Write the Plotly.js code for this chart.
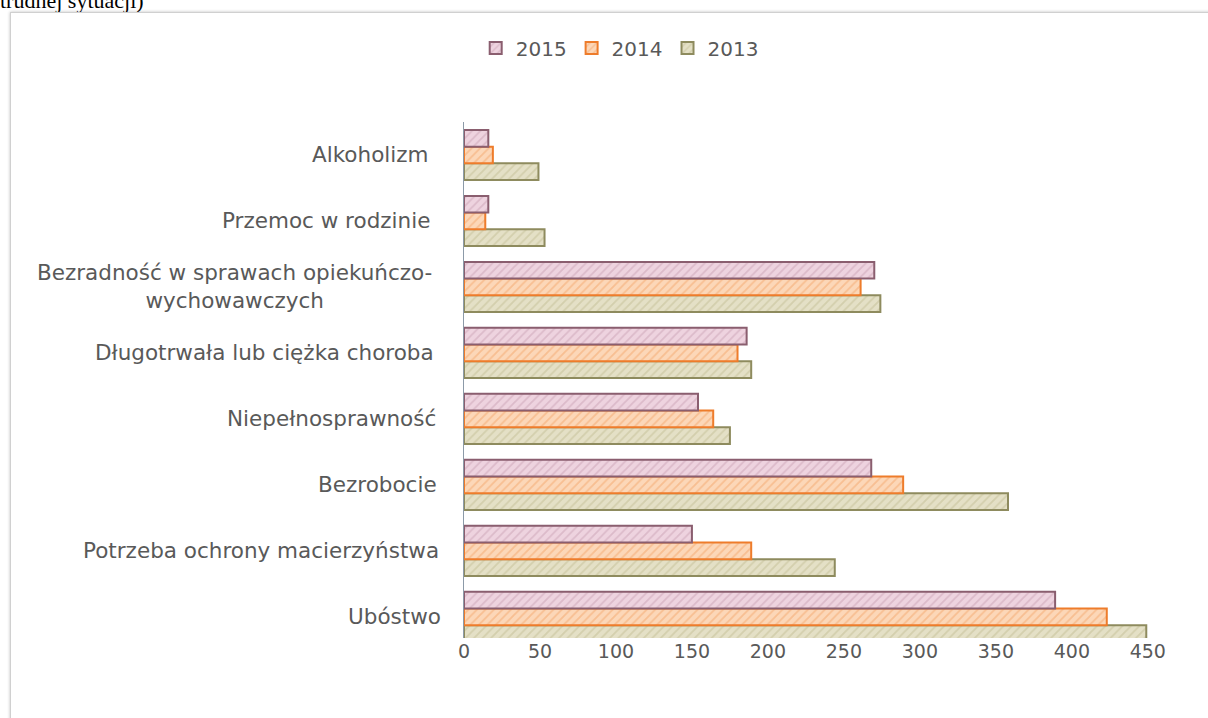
<!DOCTYPE html>
<html>
<head>
<meta charset="utf-8">
<script src="https://cdn.plot.ly/plotly-3.0.1.min.js"></script>
<style>
  html, body { margin: 0; padding: 0; background: #ffffff; width: 1208px; height: 718px; overflow: hidden; }
  #caption { position: absolute; left: 0; top: -10px; font-family: "Liberation Serif", "DejaVu Serif", serif; font-size: 22px; line-height: 22px; color: #000; white-space: nowrap; }
  #frame { position: absolute; left: 10px; top: 12px; width: 1210px; height: 720px; border: 1px solid #d0d0d0; box-shadow: 0 0 3px rgba(0,0,0,0.25); background: #ffffff; }
  #chart { position: absolute; left: 0; top: 0; width: 1208px; height: 718px; }
</style>
</head>
<body>
<div id="caption">trudnej sytuacji)</div>
<div id="frame"></div>
<div id="chart"></div>
<script>
// Categories from bottom to top
const categories = [
  "Ubóstwo",
  "Potrzeba ochrony macierzyństwa",
  "Bezrobocie",
  "Niepełnosprawność",
  "Długotrwała lub ciężka choroba",
  "Bezradność w sprawach opiekuńczo-<br>wychowawczych",
  "Przemoc w rodzinie",
  "Alkoholizm"
];
const values2015 = [389, 150, 268, 154, 186, 270, 16, 16];
const values2014 = [423, 189, 289, 164, 180, 261, 14, 19];
const values2013 = [449, 244, 358, 175, 189, 274, 53, 49];
const xTicks = [0, 50, 100, 150, 200, 250, 300, 350, 400, 450];

const textColor = "#595959";

function barTrace(name, vals, bg, fg, line) {
  return {
    type: "bar",
    orientation: "h",
    name: name,
    x: vals,
    y: categories,
    marker: {
      color: bg,
      line: { color: line, width: 2 },
      pattern: { shape: "/", fgcolor: fg, bgcolor: bg, size: 6, solidity: 0.3, fillmode: "overlay" }
    },
    hoverinfo: "x+name"
  };
}

const data = [
  barTrace("2013", values2013, "#e4e0c6", "#c2bd93", "#8e8b5e"),
  barTrace("2014", values2014, "#fcd7b8", "#f3a569", "#ee7c2b"),
  barTrace("2015", values2015, "#eed3df", "#c9a2b4", "#8a5e6f")
];

const annotations = categories.map((c, i) => ({
  xref: "paper", yref: "y",
  x: -0.03 - i * 0.0026, y: c,
  xanchor: "right", yanchor: "middle",
  align: "center",
  text: c,
  showarrow: false,
  font: { family: "DejaVu Sans, sans-serif", size: 21.5, color: textColor }
}));

const layout = {
  width: 1208, height: 718,
  paper_bgcolor: "rgba(0,0,0,0)",
  plot_bgcolor: "rgba(0,0,0,0)",
  margin: { l: 464, r: 45, t: 122, b: 80 },
  barmode: "group",
  bargap: 0.24,
  bargroupgap: 0,
  showlegend: true,
  legend: {
    orientation: "h",
    xref: "container", yref: "container",
    x: 0.513, y: 0.933,
    xanchor: "center", yanchor: "middle",
    traceorder: "reversed",
    font: { family: "DejaVu Sans, sans-serif", size: 20, color: textColor },
    itemwidth: 30
  },
  xaxis: {
    range: [0, 460],
    tickvals: xTicks,
    ticktext: xTicks.map(String),
    showgrid: false,
    zeroline: false,
    showline: false,
    ticks: "",
    tickfont: { family: "DejaVu Sans, sans-serif", size: 19, color: textColor }
  },
  yaxis: {
    type: "category",
    range: [-0.32, 7.5],
    showticklabels: false,
    showgrid: false,
    zeroline: false,
    showline: true,
    linecolor: "#8c9aa8",
    linewidth: 1,
    ticks: ""
  },
  annotations: annotations
};

Plotly.newPlot("chart", data, layout, { displayModeBar: false, staticPlot: true });
</script>
</body>
</html>
